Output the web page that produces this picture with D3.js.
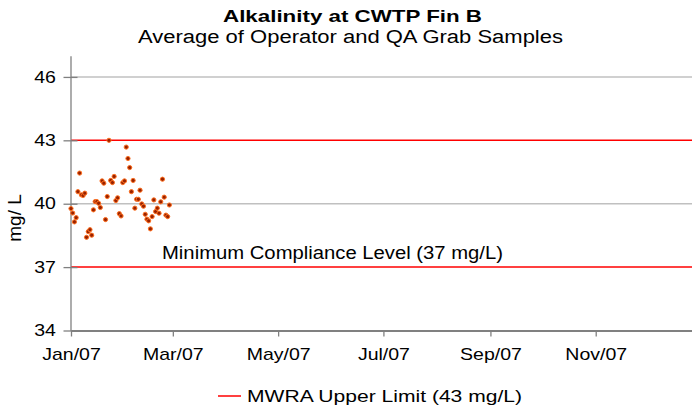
<!DOCTYPE html>
<html>
<head>
<meta charset="utf-8">
<script src="https://cdn.jsdelivr.net/npm/d3@7/dist/d3.min.js"></script>
<style>
body { margin: 0; background: #fff; }
text { font-family: "Liberation Sans", Arial, sans-serif; fill: #000; }
</style>
</head>
<body>
<div id="chart"></div>
<script>
// sample dates (daily grabs, Jan-Feb 2007)
var sampleDates = [
  "2007-01-01","2007-01-02","2007-01-03","2007-01-04","2007-01-05","2007-01-06","2007-01-07",
  "2007-01-08","2007-01-09","2007-01-10","2007-01-11","2007-01-12","2007-01-13","2007-01-14",
  "2007-01-15","2007-01-16","2007-01-17","2007-01-18","2007-01-19","2007-01-20","2007-01-21",
  "2007-01-22","2007-01-23","2007-01-24","2007-01-25","2007-01-26","2007-01-27","2007-01-28",
  "2007-01-29","2007-01-30","2007-01-31","2007-02-01","2007-02-02","2007-02-03","2007-02-04",
  "2007-02-05","2007-02-06","2007-02-07","2007-02-08","2007-02-09","2007-02-10","2007-02-11",
  "2007-02-12","2007-02-13","2007-02-14","2007-02-15","2007-02-16","2007-02-17","2007-02-18",
  "2007-02-19","2007-02-20","2007-02-21","2007-02-22","2007-02-23","2007-02-24","2007-02-25",
  "2007-02-26","2007-02-27"
];

// alkalinity, mg/L
var alkalinity = [
  39.77, 39.56, 39.14, 39.34, 40.57, 41.45, 40.42,
  40.39, 40.50, 38.41, 38.68, 38.77, 38.51, 39.71,
  40.10, 40.10, 40.02, 39.82, 41.08, 40.97, 39.25,
  40.34, 43.00, 41.10, 41.00, 41.29, 40.15, 40.28,
  39.53, 39.42, 41.00, 41.08, 42.68, 42.14, 41.71,
  40.57, 41.10, 39.79, 40.21, 40.21, 40.64, 39.99,
  39.88, 39.50, 39.27, 39.19, 38.81, 39.39, 40.18,
  39.63, 39.79, 39.55, 40.09, 41.16, 40.31, 39.46,
  39.39, 39.94
];

var yTicks = [34, 37, 40, 43, 46];
var gridLevels = [40, 46];
var limitLevels = [43, 37];
var xTickDates = ["2007-01-01","2007-03-01","2007-05-01","2007-07-01","2007-09-01","2007-11-01"];

var svgWidth = 692;
var svgHeight = 407;

var parseDate = d3.timeParse("%Y-%m-%d");
var data = sampleDates.map(function(d, i) {
    return { date: parseDate(d), value: alkalinity[i] };
});

var svg = d3.select("#chart").append("svg")
    .attr("width", svgWidth)
    .attr("height", svgHeight);

var xScale = d3.scaleTime()
    .domain([parseDate("2007-01-01"), parseDate("2008-01-01")])
    .range([71, 701]);

var yScale = d3.scaleLinear()
    .domain([34, 47])
    .range([330.5, 55.8]);

// grid lines
svg.selectAll(".grid")
    .data(gridLevels)
    .enter()
    .append("line")
    .attr("x1", 71)
    .attr("x2", svgWidth)
    .attr("y1", d => yScale(d))
    .attr("y2", d => yScale(d))
    .attr("stroke", "#c0c0c0")
    .attr("stroke-width", 1.4);

// limit lines
svg.selectAll(".limit")
    .data(limitLevels)
    .enter()
    .append("line")
    .attr("x1", 71)
    .attr("x2", svgWidth)
    .attr("y1", d => yScale(d))
    .attr("y2", d => yScale(d))
    .attr("stroke", "#ff0000")
    .attr("stroke-width", 1.5);

// y axis
var leftAxis = d3.axisLeft(yScale)
    .tickValues(yTicks)
    .tickSizeInner(7)
    .tickSizeOuter(0)
    .tickPadding(8);

var yAxis = svg.append("g")
    .attr("transform", "translate(70.5,0)")
    .call(leftAxis);
yAxis.select(".domain").attr("stroke", "#808080").attr("stroke-width", 1.3);
yAxis.selectAll(".tick line").attr("x1", 7).attr("x2", -7).attr("stroke", "#808080").attr("stroke-width", 1.3);
yAxis.selectAll(".tick text")
    .attr("x", -12)
    .style("font-size", "16px")
    .attr("transform", "scale(1.22,1)");

// x axis
var bottomAxis = d3.axisBottom(xScale)
    .tickValues(xTickDates.map(parseDate))
    .tickFormat(d3.timeFormat("%b/%y"))
    .tickSizeInner(6)
    .tickSizeOuter(0)
    .tickPadding(12);

var xAxis = svg.append("g")
    .attr("transform", "translate(0,330.5)")
    .call(bottomAxis);
xAxis.select(".domain").attr("stroke", "#808080").attr("stroke-width", 2);
xAxis.selectAll(".tick line").attr("stroke", "#808080").attr("stroke-width", 1.3);
xAxis.selectAll(".tick text")
    .style("font-size", "16px")
    .attr("transform", "scale(1.22,1)");

// data points
svg.selectAll(".pt")
    .data(data)
    .enter()
    .append("circle")
    .attr("cx", d => xScale(d.date))
    .attr("cy", d => yScale(d.value))
    .attr("r", 2.1)
    .attr("fill", "#992200")
    .attr("stroke", "#ff7020")
    .attr("stroke-width", 1);

// titles
svg.append("text")
    .attr("x", 223)
    .attr("y", 22)
    .attr("textLength", 259)
    .attr("lengthAdjust", "spacingAndGlyphs")
    .style("font-size", "17px")
    .style("font-weight", "bold")
    .text("Alkalinity at CWTP Fin B");

svg.append("text")
    .attr("x", 138)
    .attr("y", 42.5)
    .attr("textLength", 425)
    .attr("lengthAdjust", "spacingAndGlyphs")
    .style("font-size", "18px")
    .text("Average of Operator and QA Grab Samples");

// y axis label
svg.append("text")
    .attr("transform", "translate(21,218) rotate(-90)")
    .attr("text-anchor", "middle")
    .style("font-size", "19px")
    .text("mg/ L");

// minimum compliance label
svg.append("text")
    .attr("x", 162)
    .attr("y", 259)
    .attr("textLength", 341)
    .attr("lengthAdjust", "spacingAndGlyphs")
    .style("font-size", "17.5px")
    .text("Minimum Compliance Level (37 mg/L)");

// legend
svg.append("line")
    .attr("x1", 218)
    .attr("x2", 241)
    .attr("y1", 396)
    .attr("y2", 396)
    .attr("stroke", "#ff0000")
    .attr("stroke-width", 1.5);

svg.append("text")
    .attr("x", 247)
    .attr("y", 402)
    .attr("textLength", 275)
    .attr("lengthAdjust", "spacingAndGlyphs")
    .style("font-size", "17px")
    .text("MWRA Upper Limit (43 mg/L)");
</script>
</body>
</html>
